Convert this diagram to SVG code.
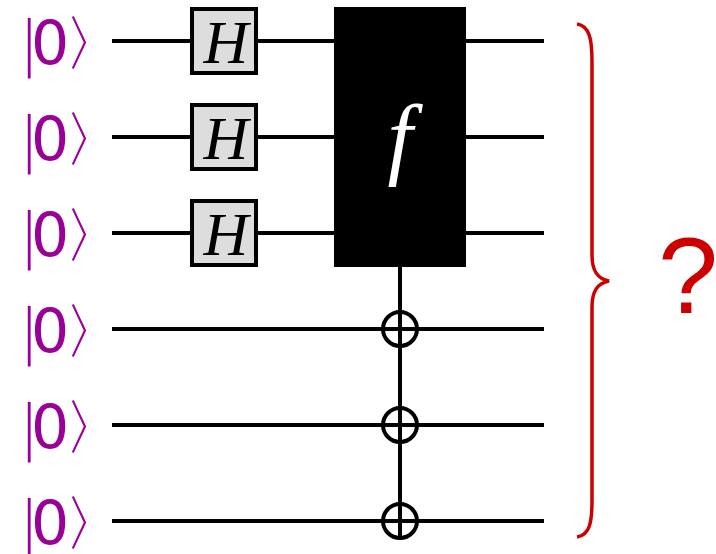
<svg xmlns="http://www.w3.org/2000/svg" width="716" height="554" viewBox="0 0 716 554">
<style>
.wire{stroke:#000;stroke-width:4;fill:none}
.ket{font-family:"DejaVu Sans",sans-serif;font-size:60px;fill:#990099}
.thin{font-weight:200}
.hbox{fill:#dddddd;stroke:#000;stroke-width:4}
.hlbl{font-family:"Liberation Serif",serif;font-style:italic;font-size:62px;fill:#000;text-anchor:middle}
.xor{fill:none;stroke:#000;stroke-width:4}
</style>
<rect width="716" height="554" fill="#fff"/>
<g id="connectors">
<line class="wire" x1="112" y1="41" x2="544" y2="41"/>
<line class="wire" x1="112" y1="137" x2="544" y2="137"/>
<line class="wire" x1="112" y1="233" x2="544" y2="233"/>
<line class="wire" x1="112" y1="329" x2="544" y2="329"/>
<line class="wire" x1="112" y1="425" x2="544" y2="425"/>
<line class="wire" x1="112" y1="521" x2="544" y2="521"/>
<line class="wire" x1="400" y1="260" x2="400" y2="538"/>
</g>
<g id="kets">
<text class="ket" y="64"><tspan class="thin" x="19">|</tspan><tspan x="31">0</tspan><tspan class="thin" x="64">〉</tspan></text>
<text class="ket" y="160"><tspan class="thin" x="19">|</tspan><tspan x="31">0</tspan><tspan class="thin" x="64">〉</tspan></text>
<text class="ket" y="256"><tspan class="thin" x="19">|</tspan><tspan x="31">0</tspan><tspan class="thin" x="64">〉</tspan></text>
<text class="ket" y="352"><tspan class="thin" x="19">|</tspan><tspan x="31">0</tspan><tspan class="thin" x="64">〉</tspan></text>
<text class="ket" y="448"><tspan class="thin" x="19">|</tspan><tspan x="31">0</tspan><tspan class="thin" x="64">〉</tspan></text>
<text class="ket" y="544"><tspan class="thin" x="19">|</tspan><tspan x="31">0</tspan><tspan class="thin" x="64">〉</tspan></text>
</g>
<g id="h1"><rect class="hbox" x="192" y="9" width="64" height="64"/><text class="hlbl" x="226" y="63">H</text></g>
<g id="h2"><rect class="hbox" x="192" y="105" width="64" height="64"/><text class="hlbl" x="226" y="159">H</text></g>
<g id="h3"><rect class="hbox" x="192" y="201" width="64" height="64"/><text class="hlbl" x="226" y="255">H</text></g>
<g id="oracle">
<rect x="334" y="7" width="132" height="260" fill="#000"/>
<text x="400" y="168" font-family="Liberation Serif,serif" font-style="italic" font-size="90" fill="#fff" text-anchor="middle">f</text>
</g>
<g id="cnot1"><circle class="xor" cx="400" cy="329" r="17"/></g>
<g id="cnot2"><circle class="xor" cx="400" cy="425" r="17"/></g>
<g id="cnot3"><circle class="xor" cx="400" cy="521" r="17"/></g>
<g id="brace">
<path d="M577,24 C590,26 592,40 592,62 L592,255 C592,272 598,279 609,281 C598,283 592,290 592,307 L592,500 C592,522 590,535 577,537" fill="none" stroke="#cc0000" stroke-width="3.5"/>
</g>
<g id="question">
<text x="688" y="313" font-family="Liberation Sans,sans-serif" font-size="108" fill="#cc0000" text-anchor="middle">?</text>
</g>
</svg>
